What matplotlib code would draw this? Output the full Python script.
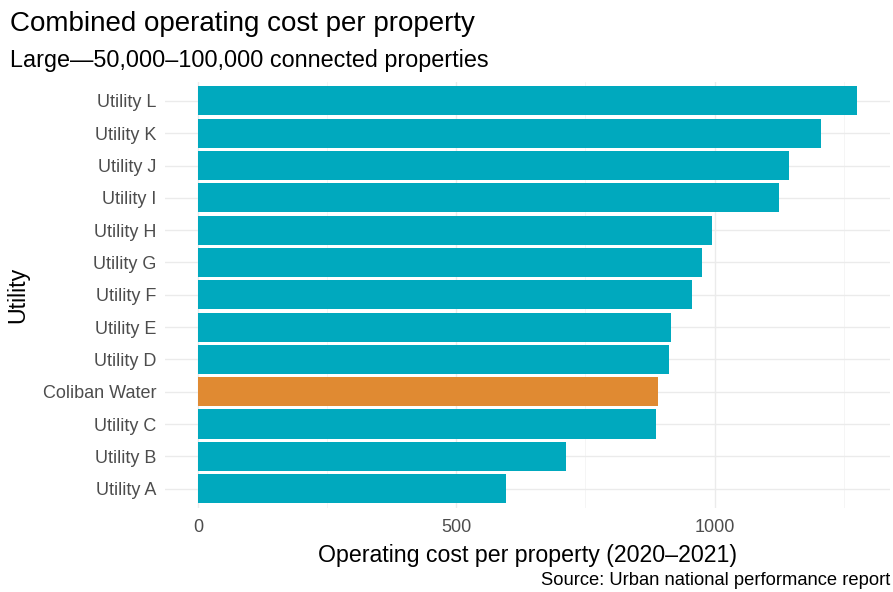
import matplotlib.pyplot as plt
import numpy as np

plt.rcParams['font.family'] = ['Liberation Sans', 'DejaVu Sans']

utilities = ["Utility A", "Utility B", "Utility C", "Coliban Water", "Utility D",
             "Utility E", "Utility F", "Utility G", "Utility H", "Utility I",
             "Utility J", "Utility K", "Utility L"]
cost = [597, 712, 886, 891, 912, 916, 956, 976, 995, 1125, 1145, 1206, 1276]
highlight = "Coliban Water"

teal = "#00A9BE"
orange = "#E08A32"
colors = [orange if u == highlight else teal for u in utilities]

fig = plt.figure(figsize=(8.93, 5.92), dpi=100)
ax = fig.add_axes([0.1848, 0.1419, 0.812, 0.7203])

y = np.arange(len(utilities))
ax.barh(y, cost, height=0.9, color=colors, zorder=3)

ax.set_xlim(-64, 1340)
ax.set_ylim(-0.6, len(utilities) - 0.4)
ax.set_yticks(y)
ax.set_yticklabels(utilities)
ax.set_xticks([0, 500, 1000])
ax.set_xticks([250, 750, 1250], minor=True)

ax.grid(True, which="major", color="#EBEBEB", linewidth=1.0, zorder=0)
ax.grid(True, which="minor", axis="x", color="#F4F4F4", linewidth=0.6, zorder=0)
for s in ax.spines.values():
    s.set_visible(False)
ax.tick_params(which="both", length=0, labelsize=13, labelcolor="#4D4D4D", pad=6)
ax.tick_params(axis="x", pad=8)

ax.set_xlabel("Operating cost per property (2020–2021)", fontsize=16.7, labelpad=6)
ax.set_ylabel("Utility", fontsize=16.7, labelpad=10)

fig.text(0.011, 0.960, "Combined operating cost per property", fontsize=20, va="center")
fig.text(0.011, 0.898, "Large—50,000–100,000 connected properties", fontsize=16.8, va="center")
fig.text(0.997, 0.020, "Source: Urban national performance report", fontsize=13.2,
         ha="right", va="center")

fig.savefig("out.png", dpi=100)
